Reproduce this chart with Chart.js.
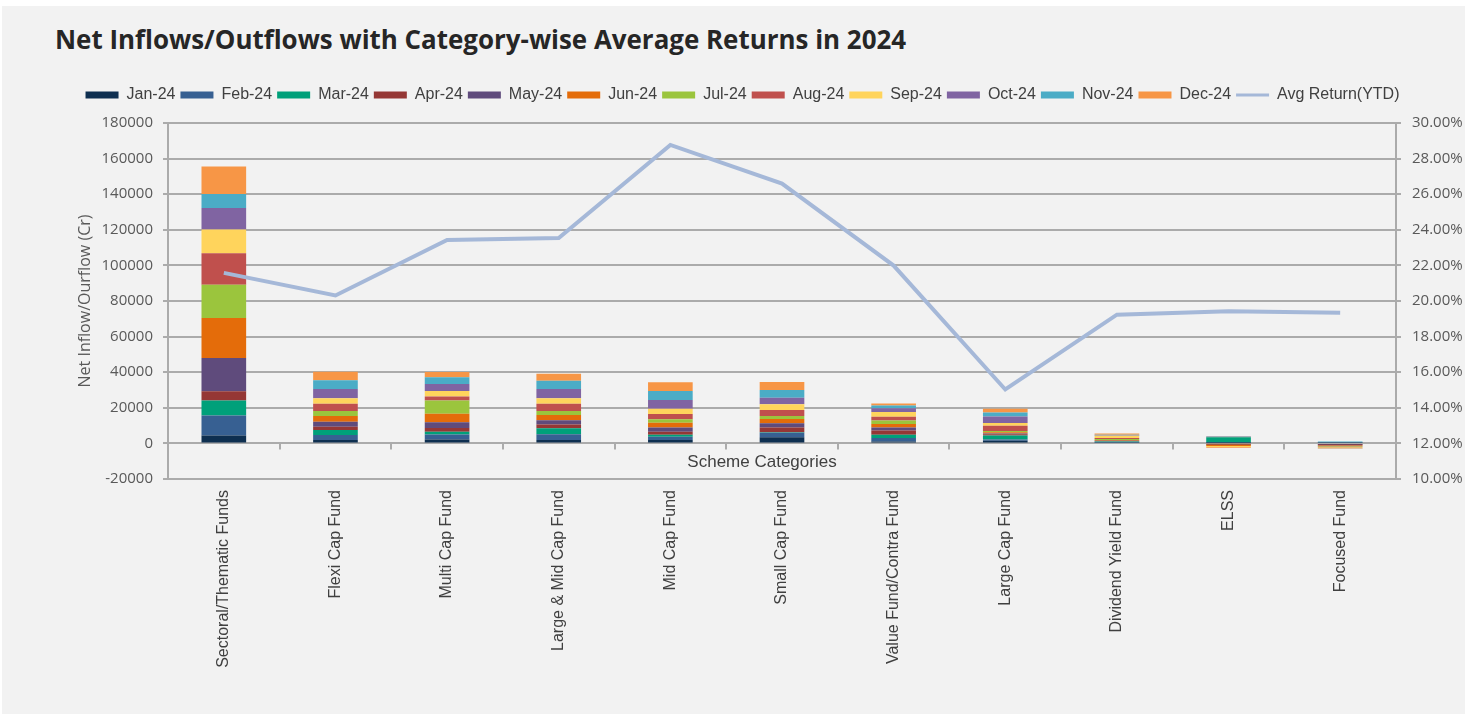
<!DOCTYPE html>
<html>
<head>
<meta charset="utf-8">
<script src="https://cdn.jsdelivr.net/npm/chart.js@4.4.1/dist/chart.umd.min.js"></script>
<style>
  html, body { margin: 0; padding: 0; background: #ffffff; }
  #panel { position: absolute; left: 2px; top: 6px; width: 1463px; height: 708px; background: #F2F2F2; }
  #title { position: absolute; left: 55px; top: 24px; margin: 0; font-family: "Liberation Sans Narrow", "Open Sans", sans-serif; font-weight: bold; font-size: 27px; line-height: 1; color: #262626; white-space: nowrap; }
  #wrap { position: absolute; left: 0; top: 0; width: 1473px; height: 714px; }
</style>
</head>
<body>
<div id="panel"></div>
<h1 id="title">Net Inflows/Outflows with Category-wise Average Returns in 2024</h1>
<div id="wrap"><canvas id="c"></canvas></div>
<script>
// ---- Data ----
const categories = ['Sectoral/Thematic Funds','Flexi Cap Fund','Multi Cap Fund','Large & Mid Cap Fund','Mid Cap Fund','Small Cap Fund','Value Fund/Contra Fund','Large Cap Fund','Dividend Yield Fund','ELSS','Focused Fund'];
const monthLabels = ['Jan-24','Feb-24','Mar-24','Apr-24','May-24','Jun-24','Jul-24','Aug-24','Sep-24','Oct-24','Nov-24','Dec-24'];
const jan24 = [4500,1900,2200,1900,1900,3400,1100,1500,300,200,300];
const feb24 = [11200,2800,2800,3200,1900,2600,1900,700,300,300,300];
const mar24 = [8400,2800,1500,3400,1100,300,1900,2200,400,2900,200];
const apr24 = [5200,1900,2200,2100,1700,2600,2400,700,200,0,-300];
const may24 = [18700,2800,3200,2400,2400,2400,1700,500,300,-200,-700];
const jun24 = [22400,3200,4700,3000,2600,2400,1900,700,400,-1200,-400];
const jul24 = [18700,2800,7500,2200,1900,1700,1900,600,600,100,-400];
const aug24 = [17700,4100,2200,4100,3000,3400,2200,3000,500,200,-400];
const sep24 = [13400,3000,3200,3000,3000,3200,2600,1500,1300,-600,-500];
const oct24 = [12100,5200,3900,5200,4900,3700,2200,3700,300,100,-200];
const nov24 = [7800,5000,3700,4700,5000,4300,1500,2200,300,200,300];
const dec24 = [15500,4700,3000,3900,4900,4500,1100,2200,700,-400,-100];
const avgReturnYTD = [21.58,20.31,23.43,23.54,28.77,26.60,21.99,15.03,19.23,19.43,19.34];
const leftTicks = [-20000,0,20000,40000,60000,80000,100000,120000,140000,160000,180000];
const rightTicks = [10,12,14,16,18,20,22,24,26,28,30];

const monthValues = [jan24,feb24,mar24,apr24,may24,jun24,jul24,aug24,sep24,oct24,nov24,dec24];
const monthColors = ['#0E2F50','#376092','#00A07A','#953735','#5F4B7C','#E46C0A','#9BC53D','#C0504D','#FFD45C','#8064A2','#4BACC6','#F79646'];
const lineColor = '#A5B8D8';
const gridColor = '#ABABAB';

// fit title width
const t = document.getElementById('title');
const targetW = 852;
let fs = 27;
t.style.fontSize = fs + 'px';
fs = fs * targetW / t.offsetWidth;
t.style.fontSize = fs + 'px';
t.style.top = (41 - fs * 0.55) + 'px';

const datasets = monthLabels.map((m, i) => ({
  type: 'bar',
  label: m,
  data: monthValues[i],
  backgroundColor: monthColors[i],
  borderWidth: 0,
  stack: 'flow',
  yAxisID: 'y',
  categoryPercentage: 1,
  barPercentage: 0.40
}));
datasets.push({
  type: 'line',
  label: 'Avg Return(YTD)',
  data: avgReturnYTD,
  borderColor: lineColor,
  backgroundColor: lineColor,
  borderWidth: 4,
  pointRadius: 0,
  tension: 0,
  yAxisID: 'y1',
  order: -1
});

const legendPatch = {
  id: 'legendPatch',
  beforeInit(chart) {
    const lg = chart.legend;
    if (lg && !lg._patched) {
      const orig = lg.fit;
      lg.fit = function () { orig.call(this); this.height = 41; };
      lg._patched = true;
    }
  }
};

const zeroAxis = {
  id: 'zeroAxis',
  afterDatasetsDraw(chart) {
    const { ctx, scales: { x, y } } = chart;
    const y0 = y.getPixelForValue(0);
    const step = x.getPixelForTick(1) - x.getPixelForTick(0);
    ctx.save();
    ctx.strokeStyle = gridColor;
    ctx.lineWidth = 2;
    for (let i = 0; i <= categories.length; i++) {
      const px = Math.round(x.getPixelForTick(0) - step / 2 + i * step);
      ctx.beginPath();
      ctx.moveTo(px, y0);
      ctx.lineTo(px, y0 + 6);
      ctx.stroke();
    }
    ctx.fillStyle = '#404040';
    ctx.font = '17px "Liberation Sans", Arial, sans-serif';
    ctx.textAlign = 'center';
    ctx.textBaseline = 'middle';
    ctx.fillText('Scheme Categories', 762, y0 + 19);
    ctx.restore();
  }
};

new Chart(document.getElementById('c'), {
  data: { labels: categories, datasets },
  plugins: [legendPatch, zeroAxis],
  options: {
    responsive: true,
    maintainAspectRatio: false,
    animation: false,
    layout: { padding: { top: 82, left: 12, right: 0, bottom: 0 } },
    plugins: {
      tooltip: { enabled: false },
      legend: {
        position: 'top',
        labels: {
          usePointStyle: true,
          pointStyleWidth: 33,
          boxHeight: 7,
          padding: 5,
          color: '#404040',
          font: { family: '"Liberation Sans", Arial, sans-serif', size: 16 },
          sort: (a, b) => a.datasetIndex - b.datasetIndex,
          generateLabels(chart) {
            return chart.data.datasets.map((ds, i) => ({
              text: ds.label,
              datasetIndex: i,
              fillStyle: ds.type === 'line' ? 'rgba(0,0,0,0)' : ds.backgroundColor,
              strokeStyle: ds.type === 'line' ? ds.borderColor : ds.backgroundColor,
              lineWidth: ds.type === 'line' ? 3 : 0,
              pointStyle: ds.type === 'line' ? 'line' : 'rect',
              rotation: 0,
              hidden: false,
              fontColor: '#404040'
            }));
          }
        }
      }
    },
    scales: {
      x: {
        stacked: true,
        grid: { display: false, drawTicks: false },
        border: { display: false },
        ticks: {
          autoSkip: false, maxRotation: 90, minRotation: 90, padding: 11,
          color: '#404040',
          font: { family: '"Liberation Sans", Arial, sans-serif', size: 16 }
        },
        afterFit(scale) { scale.height = 714 - 479; }
      },
      y: {
        position: 'left',
        stacked: true,
        min: -20000, max: 180000,
        afterBuildTicks(scale) { scale.ticks = leftTicks.map(v => ({ value: v })); },
        ticks: {
          padding: 10, color: '#595959',
          font: { family: '"Open Sans", sans-serif', size: 15 },
          callback: v => String(v)
        },
        grid: { color: gridColor, lineWidth: 2, tickLength: 5, drawTicks: true },
        border: { display: true, color: gridColor, width: 2 },
        title: {
          display: true, text: 'Net Inflow/Ourflow (Cr)', color: '#595959',
          font: { family: '"Open Sans", sans-serif', size: 16 },
          padding: { top: 64, bottom: 0 }
        },
        afterFit(scale) { scale.width = 168 - 12; }
      },
      y1: {
        position: 'right',
        min: 10, max: 30,
        afterBuildTicks(scale) { scale.ticks = rightTicks.map(v => ({ value: v })); },
        ticks: {
          padding: 11, color: '#595959',
          font: { family: '"Open Sans", sans-serif', size: 15 },
          callback: v => Number(v).toFixed(2) + '%'
        },
        grid: { drawOnChartArea: false, color: gridColor, lineWidth: 2, tickLength: 5, drawTicks: true },
        border: { display: true, color: gridColor, width: 2 },
        afterFit(scale) { scale.width = 1473 - 1396; }
      }
    }
  }
});
</script>
</body>
</html>
